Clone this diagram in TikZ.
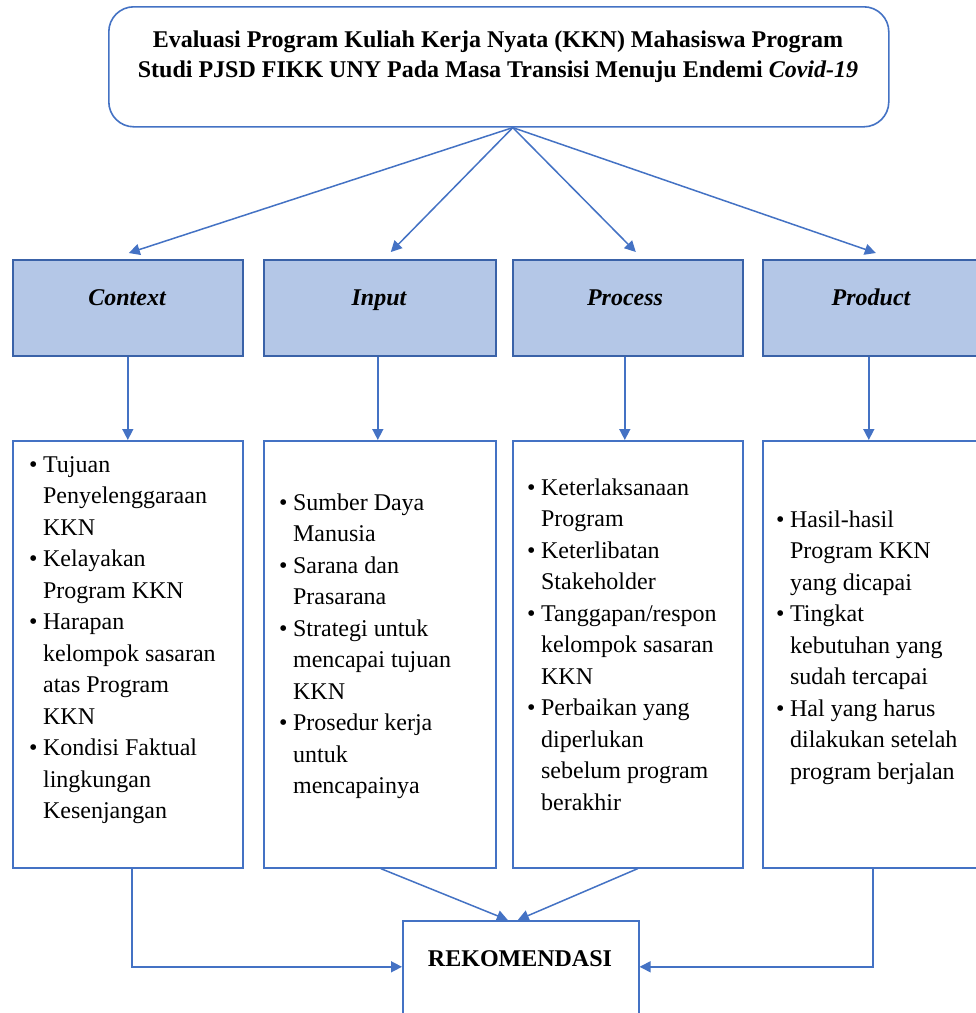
\documentclass[tikz,border=0pt]{standalone}
\usepackage{fontspec}
\setmainfont{Liberation Serif}
\usetikzlibrary{arrows.meta}
\definecolor{lineblue}{HTML}{4472C4}
\definecolor{fillblue}{HTML}{B4C7E7}
\definecolor{edgeblue}{HTML}{3A62A8}
\newcommand{\bodyfont}{\fontsize{24}{31.5}\selectfont}
\newcommand{\blt}{\textbullet}
\begin{document}
\begin{tikzpicture}[x=1pt,y=-1pt,
  topbox/.style={draw=lineblue,line width=1.6pt,rounded corners=25pt,fill=white,minimum width=780pt,minimum height=120pt,inner sep=0pt,anchor=north west},
  catbox/.style={draw=edgeblue,line width=1.6pt,fill=fillblue,minimum height=96pt,inner sep=0pt,anchor=north west},
  listbox/.style={draw=lineblue,line width=1.6pt,fill=white,minimum height=427pt,inner sep=0pt,anchor=north west},
  rekbox/.style={draw=lineblue,line width=1.6pt,fill=white,minimum width=236pt,minimum height=140pt,inner sep=0pt,anchor=north west},
  cattext/.style={font=\fontsize{24}{28}\selectfont\bfseries\itshape,inner sep=0pt,anchor=base},
  listtext/.style={font=\bodyfont,inner sep=0pt,anchor=base west},
  arr/.style={draw=lineblue,line width=1.5pt,-{Triangle[length=11pt,width=11pt]}},
  conn/.style={draw=lineblue,line width=1.5pt}
]
\clip (0,0) rectangle (976,1013);
\fill[white] (0,0) rectangle (976,1013);

% top box
\node[topbox] (top) at (108,6) {};
\node[font=\fontsize{24}{30}\selectfont\bfseries,align=center,inner sep=0pt] (title) at (498,57)
  {Evaluasi Program Kuliah Kerja Nyata (KKN) Mahasiswa Program\\
   Studi PJSD FIKK UNY Pada Masa Transisi Menuju Endemi \textit{Covid-19}};
\coordinate (src) at ([xshift=14pt]top.south);

% category boxes
\node[catbox,minimum width=230pt] (ctx) at (12,259) {};
\node[catbox,minimum width=232pt] (inp) at (263,259) {};
\node[catbox,minimum width=230pt] (proc) at (512,259) {};
\node[catbox,minimum width=220pt] (prod) at (762,259) {};
\node[cattext] (ctxt) at (127,305) {Context};
\node[cattext] (inpt) at (379,305) {Input};
\node[cattext] (proct) at (625,305) {Process};
\node[cattext] (prodt) at (871,305) {Product};

% list boxes
\node[listbox,minimum width=230pt] (ctxl) at (12,440) {};
\node[listbox,minimum width=232pt] (inpl) at (263,440) {};
\node[listbox,minimum width=230pt] (procl) at (512,440) {};
\node[listbox,minimum width=220pt] (prodl) at (762,440) {};

\node[listtext] (ctxlist) at (29,472) {\begin{tabular}[t]{@{}l@{\hspace{5.5pt}}l@{}}
\blt & Tujuan\\ & Penyelenggaraan\\ & KKN\\
\blt & Kelayakan\\ & Program KKN\\
\blt & Harapan\\ & kelompok sasaran\\ & atas Program\\ & KKN\\
\blt & Kondisi Faktual\\ & lingkungan\\ & Kesenjangan
\end{tabular}};
\node[listtext] (inplist) at (279,510) {\begin{tabular}[t]{@{}l@{\hspace{5.5pt}}l@{}}
\blt & Sumber Daya\\ & Manusia\\
\blt & Sarana dan\\ & Prasarana\\
\blt & Strategi untuk\\ & mencapai tujuan\\ & KKN\\
\blt & Prosedur kerja\\ & untuk\\ & mencapainya
\end{tabular}};
\node[listtext] (proclist) at (527,495) {\begin{tabular}[t]{@{}l@{\hspace{5.5pt}}l@{}}
\blt & Keterlaksanaan\\ & Program\\
\blt & Keterlibatan\\ & Stakeholder\\
\blt & Tanggapan/respon\\ & kelompok sasaran\\ & KKN\\
\blt & Perbaikan yang\\ & diperlukan\\ & sebelum program\\ & berakhir
\end{tabular}};
\node[listtext] (prodlist) at (776,527) {\begin{tabular}[t]{@{}l@{\hspace{5.5pt}}l@{}}
\blt & Hasil-hasil\\ & Program KKN\\ & yang dicapai\\
\blt & Tingkat\\ & kebutuhan yang\\ & sudah tercapai\\
\blt & Hal yang harus\\ & dilakukan setelah\\ & program berjalan
\end{tabular}};

% recommendation
\node[rekbox] (rek) at (402,920) {};
\node[font=\fontsize{24}{28}\selectfont\bfseries,inner sep=0pt,anchor=base] (rekt) at (520,966) {REKOMENDASI};

% arrows from top
\draw[arr] (src) -- ([shift={(1,-6)}]ctx.north);
\draw[arr] (src) -- ([shift={(11,-7)}]inp.north);
\draw[arr] (src) -- ([shift={(8,-7)}]proc.north);
\draw[arr] (src) -- ([shift={(3,-6)}]prod.north);

% category to list
\draw[arr] (ctx.south) -- (ctxl.north);
\draw[arr] ([xshift=-2pt]inp.south) -- ([xshift=-2pt]inpl.north);
\draw[arr] ([xshift=-3pt]proc.south) -- ([xshift=-3pt]procl.north);
\draw[arr] ([xshift=-4pt]prod.south) -- ([xshift=-4pt]prodl.north);

% list to recommendation
\draw[arr] ([xshift=4pt]ctxl.south) |- ([yshift=24pt]rek.west);
\draw[arr] (prodl.south) |- ([yshift=24pt]rek.east);
\draw[arr] ([xshift=1pt]inpl.south) -- ([xshift=-13pt]rek.north);
\draw[arr] ([xshift=10pt]procl.south) -- ([xshift=-3pt]rek.north);
\end{tikzpicture}
\end{document}
